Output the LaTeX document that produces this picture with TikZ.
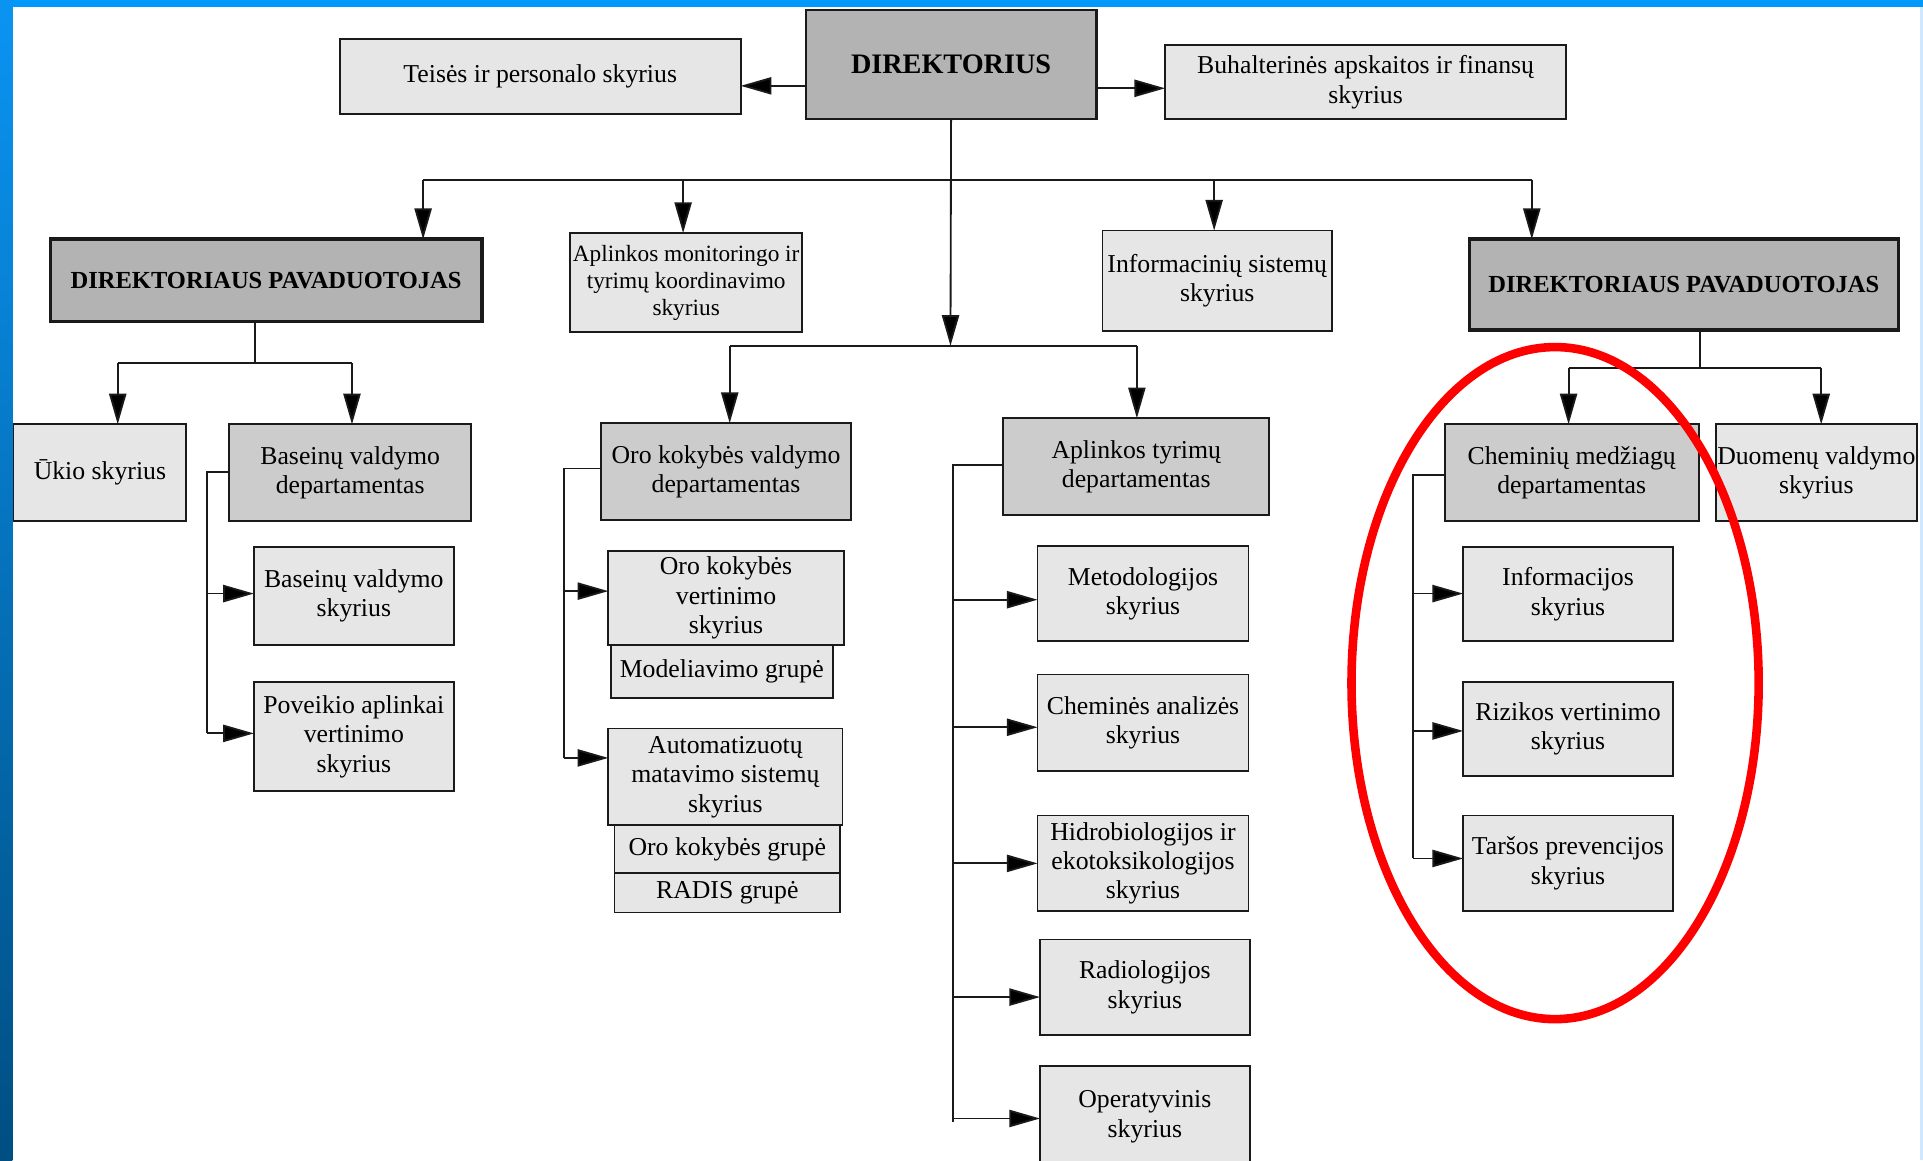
\documentclass[tikz,border=0pt]{standalone}
\usepackage{fontspec}
\setmainfont{Liberation Serif}
\usetikzlibrary{arrows.meta,shapes.geometric}

\definecolor{lg}{HTML}{E6E6E6}
\definecolor{mg}{HTML}{CCCCCC}
\definecolor{dg}{HTML}{B3B3B3}
\definecolor{edgec}{HTML}{1A1A1A}
\definecolor{topblue}{HTML}{0098FA}
\definecolor{blueA}{HTML}{0A94F2}
\definecolor{blueB}{HTML}{004E82}
\definecolor{paleblue}{HTML}{CFE8FF}

% \bx{name}{x1}{y1}{x2}{y2}{style}{text}
\newcommand\bx[7]{\node[#6, minimum width={(#4-#2)*0.5pt}, minimum height={(#5-#3)*0.5pt}] (#1) at ({(#2+#4)/2},{(#3+#5)/2}) {#7};}

\tikzset{
  basebox/.style={draw=edgec, line width=0.75pt, inner sep=0pt, outer sep=0pt, align=center,
    font=\fontsize{10.5}{12}\selectfont, text=black},
  lightbox/.style={basebox, fill=lg},
  midbox/.style={basebox, fill=mg},
  topbox/.style={basebox, fill=dg, line width=0.9pt, font=\bfseries\fontsize{11.5}{13}\selectfont},
  bossbox/.style={basebox, fill=dg, line width=1.4pt, font=\bfseries\fontsize{10}{12}\selectfont},
  smalltext/.style={font=\fontsize{9.5}{11}\selectfont},
  arr/.style={-{Triangle[length=12.5pt,width=7pt,fill=black]}, line width=0.75pt, draw=edgec},
  ln/.style={line width=0.75pt, draw=edgec},
}

\begin{document}
\begin{tikzpicture}[x=0.5pt,y=-0.5pt]
\useasboundingbox (0,0) rectangle (1568,946);
\clip (0,0) rectangle (1568,946);
% background and frame
\fill[white] (0,0) rectangle (1568,946);
\fill[topblue] (0,0) rectangle (1568,6);
\shade[top color=blueA, bottom color=blueB] (0,0) rectangle (10,946);
\fill[paleblue] (1565.5,6) rectangle (1568,946);

% top level
\bx{dir}{657}{8}{894}{97}{topbox}{DIREKTORIUS}
\bx{teises}{277}{32}{604}{93}{lightbox}{Teisės ir personalo skyrius}
\bx{buh}{950}{37}{1277}{97}{lightbox}{Buhalterinės apskaitos ir finansų\\skyrius}

\bx{dpl}{41}{195}{393}{262}{bossbox}{DIREKTORIAUS PAVADUOTOJAS}
\bx{mon}{465}{190}{654}{271}{lightbox,smalltext}{Aplinkos monitoringo ir\\tyrimų koordinavimo\\skyrius}
\bx{info}{899}{188}{1086}{270}{lightbox}{Informacinių sistemų\\skyrius}
\bx{dpr}{1198}{195}{1548}{269}{bossbox}{DIREKTORIAUS PAVADUOTOJAS}

% left branch
\bx{ukio}{11}{346}{152}{425}{lightbox}{Ūkio skyrius}
\bx{bas}{187}{346}{384}{425}{midbox}{Baseinų valdymo\\departamentas}
\bx{bvs}{207}{446}{370}{526}{lightbox}{Baseinų valdymo\\skyrius}
\bx{pav}{207}{556}{370}{645}{lightbox}{Poveikio aplinkai\\vertinimo\\skyrius}

% air quality
\bx{oro}{490}{345}{694}{424}{midbox}{Oro kokybės valdymo\\departamentas}
\bx{okv}{496}{449}{688}{526}{lightbox}{Oro kokybės\\vertinimo\\skyrius}
\bx{mod}{498}{526}{679}{569}{lightbox}{Modeliavimo grupė}
\bx{ams}{496}{594}{687}{673}{lightbox}{Automatizuotų\\matavimo sistemų\\skyrius}
\bx{okg}{501}{673}{685}{712}{lightbox}{Oro kokybės grupė}
\bx{rad}{501}{712}{685}{744}{lightbox}{RADIS grupė}

% environmental research
\bx{apt}{818}{341}{1035}{420}{midbox}{Aplinkos tyrimų\\departamentas}
\bx{met}{846}{445}{1018}{523}{lightbox}{Metodologijos\\skyrius}
\bx{chan}{846}{550}{1018}{629}{lightbox}{Cheminės analizės\\skyrius}
\bx{hid}{846}{665}{1018}{743}{lightbox}{Hidrobiologijos ir\\ekotoksikologijos\\skyrius}
\bx{radl}{848}{766}{1019}{844}{lightbox}{Radiologijos\\skyrius}
\bx{oper}{848}{869}{1019}{952}{lightbox}{Operatyvinis\\skyrius}

% right branch
\bx{chm}{1178}{346}{1385}{425}{midbox}{Cheminių medžiagų\\departamentas}
\bx{duo}{1399}{346}{1563}{425}{lightbox}{Duomenų valdymo\\skyrius}
\bx{inf}{1193}{446}{1364}{523}{lightbox}{Informacijos\\skyrius}
\bx{riz}{1193}{556}{1364}{633}{lightbox}{Rizikos vertinimo\\skyrius}
\bx{tar}{1193}{665}{1364}{743}{lightbox}{Taršos prevencijos\\skyrius}

% helper coordinates
\coordinate (ya) at (0,70);
\coordinate (yb) at (0,72);
\coordinate (busL) at (345,147);
\coordinate (b2) at (557,147);
\coordinate (b3) at (990,147);
\coordinate (busR) at (1249,147);
\coordinate (midj) at (775,282);
\coordinate (mL) at (595,282);
\coordinate (mR) at (927,282);
\coordinate (l0) at (208,296);
\coordinate (lL) at (96,296);
\coordinate (lR) at (287,296);
\coordinate (k1) at (169,385);
\coordinate (k3) at (169,484);
\coordinate (k2) at (169,598);
\coordinate (o1) at (460,382);
\coordinate (o3) at (460,482);
\coordinate (o2) at (460,618);
\coordinate (a1) at (777,379);
\coordinate (a3) at (777,489);
\coordinate (a4) at (777,593);
\coordinate (a5) at (777,704);
\coordinate (a6) at (777,813);
\coordinate (a2) at (777,912);
\coordinate (aend) at (777,915);
\coordinate (r0) at (1386,300);
\coordinate (rL) at (1279,300);
\coordinate (rR) at (1485,300);
\coordinate (c1) at (1152,387);
\coordinate (c3) at (1152,484);
\coordinate (c4) at (1152,596);
\coordinate (c2) at (1152,700);

% director side arrows
\draw[arr] (dir.west |- ya) -- (teises.east |- ya);
\draw[arr] (dir.east |- yb) -- (buh.west |- yb);

% top bus
\draw[ln] (busL) -- (busR);
\draw[arr] (busL) -- (busL |- dpl.north);
\draw[arr] (b2) -- (b2 |- mon.north);
\draw[arr] (b3) -- (b3 |- info.north);
\draw[arr] (busR) -- (busR |- dpr.north);

% central trunk
\draw[arr] (dir.south) -- (midj);
\draw[ln] (mL) -- (mR);
\draw[arr] (mL) -- (mL |- oro.north);
\draw[arr] (mR) -- (mR |- apt.north);

% left deputy
\draw[ln] (dpl.south -| l0) -- (l0);
\draw[ln] (lL) -- (lR);
\draw[arr] (lL) -- (lL |- ukio.north);
\draw[arr] (lR) -- (lR |- bas.north);
\draw[ln] (bas.west |- k1) -- (k1) -- (k2);
\draw[arr] (k3) -- (k3 -| bvs.west);
\draw[arr] (k2) -- (k2 -| pav.west);

% air quality bracket
\draw[ln] (oro.west |- o1) -- (o1) -- (o2);
\draw[arr] (o3) -- (o3 -| okv.west);
\draw[arr] (o2) -- (o2 -| ams.west);

% environmental research bracket
\draw[ln] (apt.west |- a1) -- (a1) -- (aend);
\draw[arr] (a3) -- (a3 -| met.west);
\draw[arr] (a4) -- (a4 -| chan.west);
\draw[arr] (a5) -- (a5 -| hid.west);
\draw[arr] (a6) -- (a6 -| radl.west);
\draw[arr] (a2) -- (a2 -| oper.west);

% right deputy
\draw[ln] (dpr.south -| r0) -- (r0);
\draw[ln] (rL) -- (rR);
\draw[arr] (rL) -- (rL |- chm.north);
\draw[arr] (rR) -- (rR |- duo.north);
\draw[ln] (chm.west |- c1) -- (c1) -- (c2);
\draw[arr] (c3) -- (c3 -| inf.west);
\draw[arr] (c4) -- (c4 -| riz.west);
\draw[arr] (c2) -- (c2 -| tar.west);

% red highlight ellipse
\draw[red, line width=3.5pt] (1268,557) ellipse [x radius=83pt, y radius=137pt];
\end{tikzpicture}
\end{document}
